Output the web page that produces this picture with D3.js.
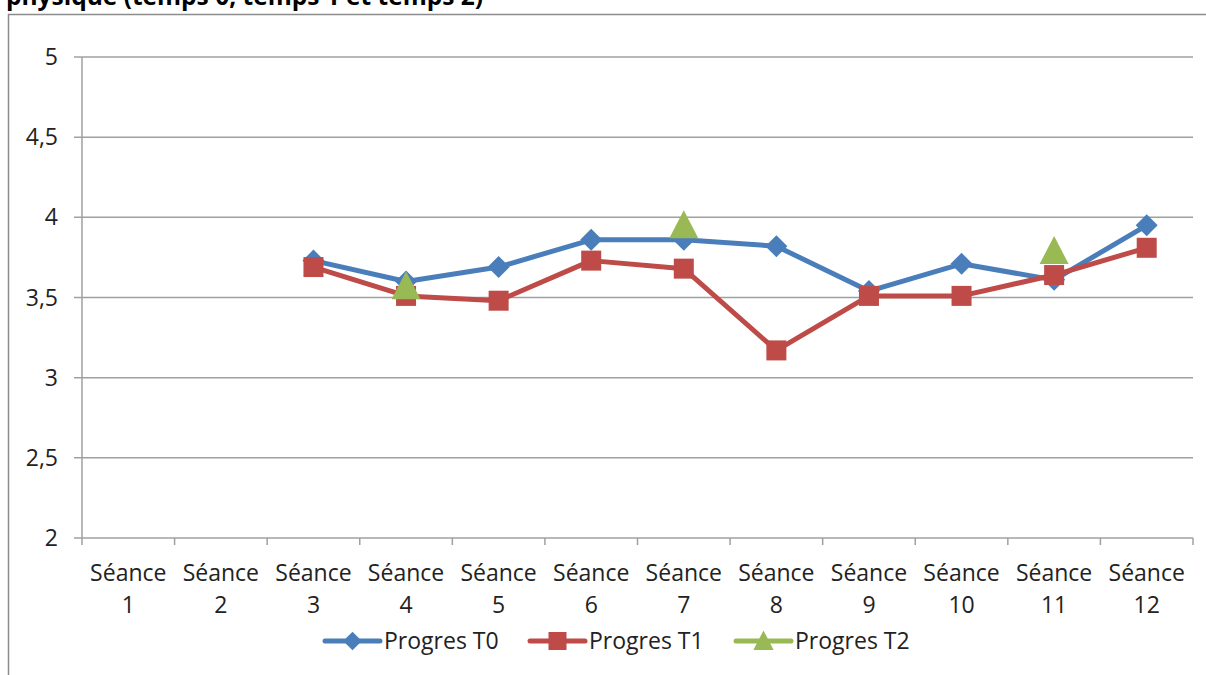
<!DOCTYPE html>
<html>
<head>
<meta charset="utf-8">
<script src="https://cdn.jsdelivr.net/npm/d3@7"></script>
<style>
  body { margin: 0; background: #fff; }
  svg { font-family: "Open Sans", Lato, sans-serif; }
</style>
</head>
<body>
<svg id="chart" width="1206" height="675"></svg>
<script>
var seances = ["1","2","3","4","5","6","7","8","9","10","11","12"];
var progresT0 = [null, null, 3.73, 3.60, 3.69, 3.86, 3.86, 3.82, 3.54, 3.71, 3.61, 3.95];
var progresT1 = [null, null, 3.69, 3.51, 3.48, 3.73, 3.68, 3.17, 3.51, 3.51, 3.64, 3.81];
var progresT2 = [null, null, null, 3.57, null, null, 3.95, null, null, null, 3.79, null];
var yTicks = [2, 2.5, 3, 3.5, 4, 4.5, 5];
var seriesNames = ["Progres T0", "Progres T1", "Progres T2"];
var colors = ["#4a7ebb", "#be4b48", "#98b954"];

var svg = d3.select("#chart");
var pLeft = 82, pRight = 1193, pTop = 57, pBottom = 538;
var fs = "23px";

// chart frame (cut off like the original)
svg.append("path")
    .attr("d", "M8.5,675 V14.5 H1206")
    .attr("fill", "none")
    .attr("stroke", "#8c8c8c")
    .attr("stroke-width", 1.5);

svg.append("text")
    .attr("x", 6).attr("y", 5)
    .attr("font-weight", "bold")
    .attr("font-size", "24.5px")
    .attr("fill", "#000")
    .text("physique (temps 0, temps 1 et temps 2)");

var x = d3.scaleBand().domain(seances).range([pLeft, pRight]);
var y = d3.scaleLinear().domain([2, 5]).range([pBottom, pTop]);

// gridlines
svg.append("g").selectAll("line")
    .data(yTicks)
    .enter().append("line")
    .attr("x1", pLeft - 8).attr("x2", pRight)
    .attr("y1", d => y(d)).attr("y2", d => y(d))
    .attr("stroke", "#a0a0a0")
    .attr("stroke-width", 1.5);

// y axis line
svg.append("line")
    .attr("x1", pLeft).attr("x2", pLeft)
    .attr("y1", pTop).attr("y2", pBottom)
    .attr("stroke", "#a0a0a0").attr("stroke-width", 1.5);

// x ticks at category boundaries
var bounds = seances.map(d => x(d)).concat([pRight]);
svg.append("g").selectAll("line")
    .data(bounds)
    .enter().append("line")
    .attr("x1", d => d).attr("x2", d => d)
    .attr("y1", pBottom).attr("y2", pBottom + 7)
    .attr("stroke", "#a0a0a0").attr("stroke-width", 1.5);

// y labels
svg.append("g").selectAll("text")
    .data(yTicks)
    .enter().append("text")
    .attr("x", 58)
    .attr("y", d => y(d))
    .attr("dy", "0.35em")
    .attr("text-anchor", "end")
    .attr("font-size", fs)
    .attr("fill", "#222")
    .text(d => String(d).replace(".", ","));

// x labels
var xl = svg.append("g").selectAll("text")
    .data(seances)
    .enter().append("text")
    .attr("text-anchor", "middle")
    .attr("font-size", fs)
    .attr("fill", "#222");
xl.append("tspan")
    .attr("x", d => x(d) + x.bandwidth() / 2)
    .attr("y", 581)
    .text("Séance");
xl.append("tspan")
    .attr("x", d => x(d) + x.bandwidth() / 2)
    .attr("y", 613)
    .text(d => d);

function px(i) { return x(seances[i]) + x.bandwidth() / 2; }

var line = d3.line()
    .defined(d => d != null)
    .x((d, i) => px(i))
    .y(d => y(d));

function marker(g, type, cx, cy, color, k) {
    k = k || 1;
    if (type === 0) {
        var r = 11 * k;
        g.append("path")
            .attr("d", `M${cx},${cy - r} L${cx + r},${cy} L${cx},${cy + r} L${cx - r},${cy} Z`)
            .attr("fill", color);
    } else if (type === 1) {
        var h = 10 * k;
        g.append("rect")
            .attr("x", cx - h).attr("y", cy - h)
            .attr("width", 2 * h).attr("height", 2 * h)
            .attr("fill", color);
    } else {
        g.append("path")
            .attr("d", `M${cx},${cy - 15 * k} L${cx + 14.5 * k},${cy + 13 * k} L${cx - 14.5 * k},${cy + 13 * k} Z`)
            .attr("fill", color);
    }
}

var allSeries = [progresT0, progresT1, progresT2];
allSeries.forEach(function(data, s) {
    var g = svg.append("g");
    g.append("path")
        .datum(data)
        .attr("d", line)
        .attr("fill", "none")
        .attr("stroke", colors[s])
        .attr("stroke-width", 5)
        .attr("stroke-linejoin", "round");
    data.forEach(function(v, i) {
        if (v != null) marker(g, s, px(i), y(v), colors[s]);
    });
});

// legend
var legX = [325, 530, 736];
var legK = [0.85, 0.9, 0.7];
seriesNames.forEach(function(name, s) {
    var g = svg.append("g");
    var ly = 641;
    g.append("line")
        .attr("x1", legX[s]).attr("x2", legX[s] + 55)
        .attr("y1", ly).attr("y2", ly)
        .attr("stroke", colors[s])
        .attr("stroke-width", 5)
        .attr("stroke-linecap", "round");
    marker(g, s, legX[s] + 27.5, ly, colors[s], legK[s]);
    g.append("text")
        .attr("x", legX[s] + 59)
        .attr("y", ly)
        .attr("dy", "0.35em")
        .attr("font-size", fs)
        .attr("fill", "#222")
        .text(name);
});
</script>
</body>
</html>
